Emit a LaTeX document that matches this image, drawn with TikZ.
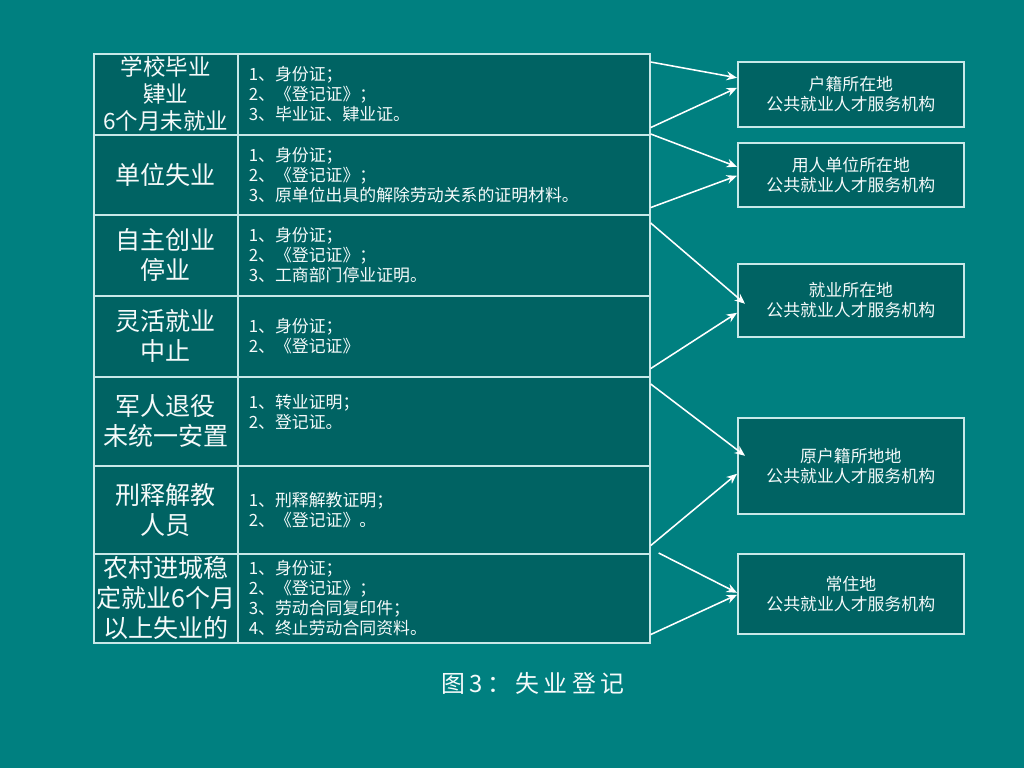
\documentclass[tikz,border=0pt]{standalone}
\usepackage{fontspec}
\setmainfont{Noto Sans CJK SC}
\newfontfamily\captionfont[LetterSpace=18]{Noto Sans CJK SC}
\usepackage{tikz}
\usetikzlibrary{arrows.meta,calc}
\definecolor{slideteal}{RGB}{0,128,128}
\definecolor{cellteal}{RGB}{0,99,99}
\definecolor{rulecyan}{RGB}{200,232,232}
\definecolor{textwhite}{RGB}{245,250,250}
\tikzstyle{cell} = [rectangle, draw=rulecyan, fill=cellteal, line width=1.1pt,
    text=textwhite, anchor=north west, inner ysep=0pt]
\tikzstyle{kind} = [cell, text width=3.6cm, inner xsep=0pt, align=center,
    font=\fontsize{17.8}{21.3}\selectfont]
\tikzstyle{docs} = [cell, text width=9.75cm, inner xsep=0.275cm, align=left,
    font=\fontsize{12}{14.2}\selectfont]
\tikzstyle{office} = [cell, text width=5.65cm, inner xsep=0pt, align=center,
    font=\fontsize{12}{14.2}\selectfont]
\tikzstyle{link} = [draw=white, line width=1.1pt, -{Stealth[length=2.6mm,width=2.2mm]}]

\begin{document}
\begin{tikzpicture}[x=0.025cm, y=-0.025cm]

    \fill[slideteal] (0,0) rectangle (1024,768);
    \useasboundingbox (0,0) rectangle (1024,768);

    \node[kind, minimum height=2.025cm, font=\fontsize{16}{19.2}\selectfont] (k1) at (93,53) {学校毕业\\肄业\\6个月未就业};
    \node[docs, minimum height=2.025cm] (d1) at (237,53) {1、身份证；\\2、《登记证》；\\3、毕业证、肄业证。};
    \node[kind, minimum height=2cm] (k2) at (93,134) {单位失业};
    \node[docs, minimum height=2cm] (d2) at (237,134) {1、身份证；\\2、《登记证》；\\3、原单位出具的解除劳动关系的证明材料。};
    \node[kind, minimum height=2.025cm] (k3) at (93,214) {自主创业\\停业};
    \node[docs, minimum height=2.025cm] (d3) at (237,214) {1、身份证；\\2、《登记证》；\\3、工商部门停业证明。};
    \node[kind, minimum height=2.025cm] (k4) at (93,295) {灵活就业\\中止};
    \node[docs, minimum height=2.025cm] (d4) at (237,295) {1、身份证；\\2、《登记证》};
    \node[kind, minimum height=2.225cm] (k5) at (93,376) {军人退役\\未统一安置};
    \node[docs, minimum height=2.225cm] (d5) at (237,376) {1、转业证明；\\2、登记证。\\\mbox{}};
    \node[kind, minimum height=2.2cm] (k6) at (93,465) {刑释解教\\人员};
    \node[docs, minimum height=2.2cm] (d6) at (237,465) {1、刑释解教证明；\\2、《登记证》。};
    \node[kind, minimum height=2.225cm] (k7) at (93,553) {农村进城稳\\定就业6个月\\以上失业的};
    \node[docs, minimum height=2.225cm] (d7) at (237,553) {1、身份证；\\2、《登记证》；\\3、劳动合同复印件；\\4、终止劳动合同资料。};

    \node[office, minimum height=1.625cm] (o1) at (737,61) {户籍所在地\\公共就业人才服务机构};
    \node[office, minimum height=1.6cm] (o2) at (737,142) {用人单位所在地\\公共就业人才服务机构};
    \node[office, minimum height=1.825cm] (o3) at (737,263) {就业所在地\\公共就业人才服务机构};
    \node[office, minimum height=2.4cm] (o4) at (737,417) {原户籍所地地\\公共就业人才服务机构};
    \node[office, minimum height=2cm] (o5) at (737,553) {常住地\\公共就业人才服务机构};

    \draw[link] ($(d1.north east)+(0,9)$) -- ($(o1.west)+(0,-16.5)$);
    \draw[link] ($(d1.south east)+(0,-8)$) -- ($(o1.west)+(0,-6.5)$);
    \draw[link] (d2.north east) -- ($(o2.west)+(0,-8)$);
    \draw[link] ($(d2.south east)+(0,-8)$) -- ($(o2.west)+(0,1)$);
    \draw[link] ($(d3.north east)+(0,9)$) -- ($(o3.west)+(8,3.5)$);
    \draw[link] ($(d4.south east)+(0,-9)$) -- ($(o3.west)+(0,12.5)$);
    \draw[link] ($(d5.north east)+(0,8)$) -- ($(o4.west)+(8,-10)$);
    \draw[link] ($(d6.south east)+(0,-9)$) -- ($(o4.west)+(0,8)$);
    \draw[link] ($(d7.north east)+(8,0)$) -- ($(o5.west)+(0,-1)$);
    \draw[link] ($(d7.south east)+(0,-9)$) -- ($(o5.west)+(0,1)$);

    \node[text=textwhite, font=\captionfont\fontsize{17}{20}\selectfont] (cap) at (533,683) {图3：失业登记};
\end{tikzpicture}
\end{document}
